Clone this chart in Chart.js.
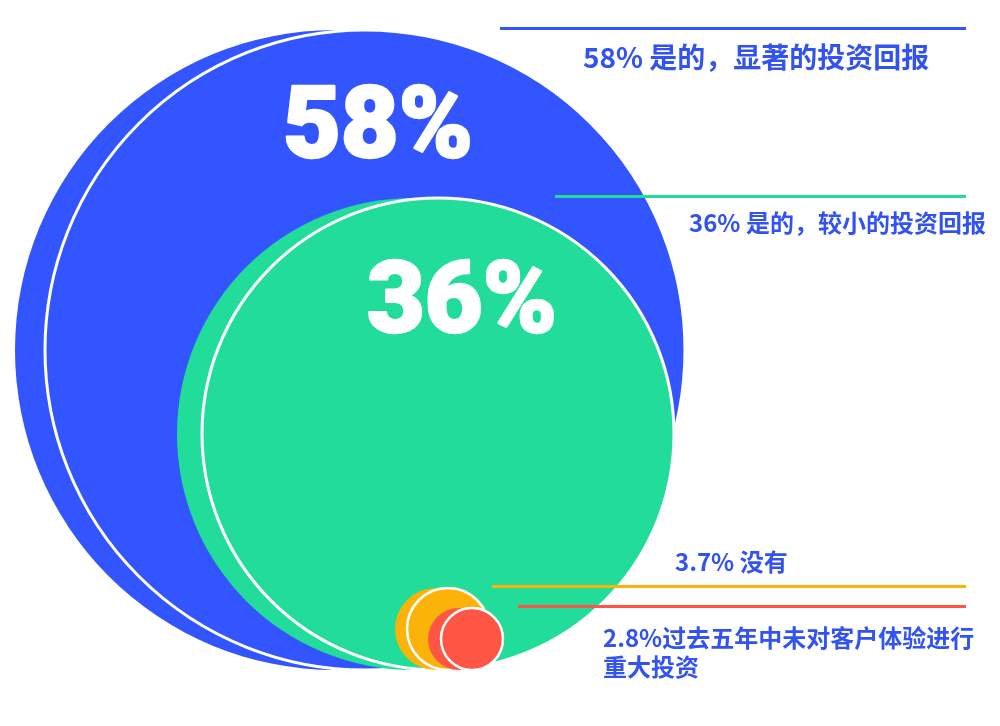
<!DOCTYPE html>
<html>
<head>
<meta charset="utf-8">
<script src="https://cdn.jsdelivr.net/npm/chart.js@4.4.1/dist/chart.umd.min.js"></script>
<style>
  html, body { margin: 0; padding: 0; background: #fff; }
  #c { display: block; }
</style>
</head>
<body>
<canvas id="c" width="1000" height="726"></canvas>
<script>
// the survey answers
var categories = ['是的，显著的投资回报', '是的，较小的投资回报', '没有', '过去五年中未对客户体验进行重大投资'];
var values = [58, 36, 3.7, 2.8];
var separators = [' ', ' ', ' ', ''];
var colors = ['#3355FF', '#22DD99', '#FBB30A', '#FF5544'];

// layout of the nested bubbles (bottom aligned on one baseline)
var bubbleR = [320, 236, 41, 31];
var bubbleX = [365, 438, 448, 472];
var shadowShift = [30, 25, 12, 13];
var baseline = 56;

// text and leader lines on the right
var lineStart = [500, 555, 492, 518];
var lineEnd = 966;
var labelX = [583, 689, 675, 603];
var labelY = [57, 223, 562, 638];
var labelSize = [28, 24, 24, 24];
var labelMaxW = [400, 320, 320, 385];
var bigX = [378, 462];
var bigBaseline = [157, 332];

var textBlue = '#3253F0';

// back (shadow) circle first, then the front one with the white ring
var points = [];
for (var i = 0; i < values.length; i++) {
  var y = baseline + bubbleR[i];
  points.push({ x: bubbleX[i] - shadowShift[i], y: y, r: bubbleR[i], k: i, front: false });
  points.push({ x: bubbleX[i], y: y, r: bubbleR[i], k: i, front: true });
}

function wrapText(ctx, text, maxW) {
  var lines = [];
  var cur = '';
  for (var ch of text) {
    if (ctx.measureText(cur + ch).width > maxW && cur) {
      lines.push(cur);
      cur = ch;
    } else {
      cur += ch;
    }
  }
  if (cur) lines.push(cur);
  return lines;
}

var annotations = {
  id: 'annotations',
  afterDatasetsDraw: function(chart) {
    var ctx = chart.ctx;
    var ys = chart.scales.y;
    ctx.save();

    // big white percentages inside the two large circles
    ctx.fillStyle = '#FFFFFF';
    ctx.strokeStyle = '#FFFFFF';
    ctx.lineWidth = 2.5;
    ctx.lineJoin = 'round';
    ctx.textAlign = 'center';
    ctx.textBaseline = 'alphabetic';
    ctx.font = '900 100px Roboto, "Noto Sans", sans-serif';
    for (var j = 0; j < bigX.length; j++) {
      ctx.fillText(values[j] + '%', bigX[j], bigBaseline[j]);
      ctx.strokeText(values[j] + '%', bigX[j], bigBaseline[j]);
    }

    // leader lines at the top of each bubble
    for (var i = 0; i < values.length; i++) {
      var top = ys.getPixelForValue(baseline + bubbleR[i]) - bubbleR[i];
      ctx.strokeStyle = colors[i];
      ctx.lineWidth = 3;
      ctx.beginPath();
      ctx.moveTo(lineStart[i], top - 1.5);
      ctx.lineTo(lineEnd, top - 1.5);
      ctx.stroke();
    }

    // labels
    ctx.fillStyle = textBlue;
    ctx.textAlign = 'left';
    ctx.textBaseline = 'middle';
    for (var i = 0; i < values.length; i++) {
      ctx.font = 'bold ' + labelSize[i] + 'px "Noto Sans CJK SC", sans-serif';
      var txt = values[i] + '%' + separators[i] + categories[i];
      var lines = wrapText(ctx, txt, labelMaxW[i]);
      for (var l = 0; l < lines.length; l++) {
        ctx.fillText(lines[l], labelX[i], labelY[i] + l * 29);
      }
    }
    ctx.restore();
  }
};

new Chart(document.getElementById('c'), {
  type: 'bubble',
  data: {
    datasets: [{
      data: points,
      clip: false,
      backgroundColor: function(c) { return c.raw ? colors[c.raw.k] : '#000'; },
      borderColor: '#FFFFFF',
      borderWidth: function(c) {
        if (!c.raw || !c.raw.front) return 0;
        return c.raw.r > 100 ? 3 : 2.5;
      }
    }]
  },
  options: {
    responsive: false,
    animation: false,
    events: [],
    layout: { padding: 0, autoPadding: false },
    plugins: {
      legend: { display: false },
      tooltip: { enabled: false }
    },
    scales: {
      x: { display: false, min: 0, max: 1000 },
      y: { display: false, min: 0, max: 726 }
    }
  },
  plugins: [annotations]
});
</script>
</body>
</html>
